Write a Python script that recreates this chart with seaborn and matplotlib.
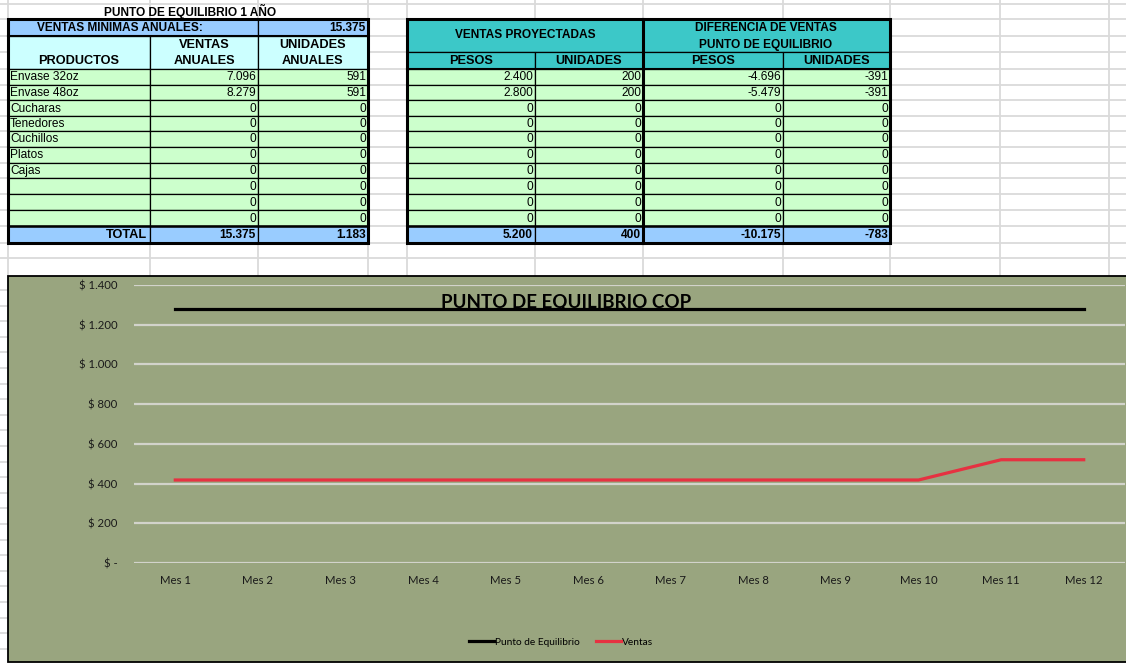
"""Hoja de punto de equilibrio: tablas de ventas + grafico mensual.
Guarda `out.png`.
"""
import matplotlib
matplotlib.use("Agg")
import matplotlib.pyplot as plt
from matplotlib.patches import Rectangle
from matplotlib.ticker import FuncFormatter
import numpy as np
import pandas as pd
import seaborn as sns

# --- datos de las tablas ---
productos = ["Envase 32oz", "Envase 48oz", "Cucharas", "Tenedores", "Cuchillos",
             "Platos", "Cajas", "", "", ""]
ventas_anuales = [7096, 8279, 0, 0, 0, 0, 0, 0, 0, 0]
unidades_anuales = [591, 591, 0, 0, 0, 0, 0, 0, 0, 0]
proy_pesos = [2400, 2800, 0, 0, 0, 0, 0, 0, 0, 0]
proy_unidades = [200, 200, 0, 0, 0, 0, 0, 0, 0, 0]
dif_pesos = [-4696, -5479, 0, 0, 0, 0, 0, 0, 0, 0]
dif_unidades = [-391, -391, 0, 0, 0, 0, 0, 0, 0, 0]
ventas_minimas = 15375
totales_izq = [15375, 1183]
totales_der = [5200, 400, -10175, -783]

# --- datos del grafico ---
meses = ["Mes 1", "Mes 2", "Mes 3", "Mes 4", "Mes 5", "Mes 6",
         "Mes 7", "Mes 8", "Mes 9", "Mes 10", "Mes 11", "Mes 12"]
punto_equilibrio = [1281, 1281, 1281, 1281, 1281, 1281,
                    1281, 1281, 1281, 1281, 1281, 1281]
ventas_mes = [418, 418, 418, 418, 418, 418, 418, 418, 418, 418, 520, 520]

W, H = 1126, 664
AZUL = "#99ccff"
CIAN = "#ccffff"
VERDE = "#ccffcc"
TEAL = "#3cc8c8"
FONDO = "#99a57f"
TFONT = "Liberation Sans"


def fmt(v):
    s = f"{abs(int(v)):,}".replace(",", ".")
    return ("-" if v < 0 else "") + s


fig = plt.figure(figsize=(W / 100, H / 100), dpi=100)
bg = fig.add_axes([0, 0, 1, 1])
bg.set_xlim(0, W)
bg.set_ylim(H, 0)
bg.axis("off")

# cuadricula de la hoja
filas = [4, 19, 36, 52, 69, 85, 100, 116, 131, 147, 163, 178, 194, 210, 226, 243, 258]
cols = [8, 150, 258, 368, 407, 535, 643, 783, 890, 1000, 1109]
for y in filas:
    bg.plot([0, W], [y, y], color="#dadada", lw=1.3, zorder=0)
for x in cols:
    bg.plot([x, x], [0, 276], color="#dadada", lw=1.3, zorder=0)
for y in np.arange(290, 664, 15.6):
    bg.plot([0, 8], [y, y], color="#dadada", lw=1.3, zorder=0)


def cell(x0, x1, y0, y1, color, lw=0.9):
    bg.add_patch(Rectangle((x0, y0), x1 - x0, y1 - y0, facecolor=color,
                           edgecolor="black", lw=lw, zorder=2))


def txt(x, y, s, ha="right", bold=False, size=8.6):
    bg.text(x, y, s, ha=ha, va="center", fontsize=size, family=TFONT,
            fontweight="bold" if bold else "normal", zorder=4)


filas_datos = filas[4:15]

# tabla izquierda
txt(190, 11.5, "PUNTO DE EQUILIBRIO 1 AÑO", ha="center", bold=True)
cell(8, 258, 19, 36, AZUL)
cell(258, 368, 19, 36, AZUL)
txt(120, 28, "VENTAS MINIMAS ANUALES:", ha="center", bold=True)
txt(366, 28, fmt(ventas_minimas), bold=True)
for x0, x1 in [(8, 150), (150, 258), (258, 368)]:
    cell(x0, x1, 36, 69, CIAN)
txt(79, 61, "PRODUCTOS", ha="center", bold=True, size=9.2)
for xc, linea1, linea2 in [(204, "VENTAS", "ANUALES"), (313, "UNIDADES", "ANUALES")]:
    txt(xc, 45, linea1, ha="center", bold=True, size=9.2)
    txt(xc, 61, linea2, ha="center", bold=True, size=9.2)
for i, (prod, va, ua) in enumerate(zip(productos, ventas_anuales, unidades_anuales)):
    y0, y1 = filas_datos[i], filas_datos[i + 1]
    for x0, x1 in [(8, 150), (150, 258), (258, 368)]:
        cell(x0, x1, y0, y1, VERDE)
    yc = (y0 + y1) / 2 + 0.5
    txt(10, yc, prod, ha="left")
    txt(256, yc, fmt(va))
    txt(366, yc, fmt(ua))
for x0, x1 in [(8, 150), (150, 258), (258, 368)]:
    cell(x0, x1, 226, 243, AZUL)
txt(147, 235, "TOTAL", bold=True, size=9.2)
txt(256, 235, fmt(totales_izq[0]), bold=True)
txt(366, 235, fmt(totales_izq[1]), bold=True)
bg.add_patch(Rectangle((8, 19), 360, 224, fill=False, edgecolor="black", lw=2.2, zorder=5))
bg.plot([8, 368], [226, 226], color="black", lw=1.8, zorder=5)
bg.plot([8, 368], [36, 36], color="black", lw=1.5, zorder=5)

# tabla derecha
cell(407, 643, 19, 52, TEAL)
cell(643, 890, 19, 52, TEAL)
txt(525, 35.5, "VENTAS PROYECTADAS", ha="center", bold=True)
txt(766, 28, "DIFERENCIA DE VENTAS", ha="center", bold=True)
txt(766, 45, "PUNTO DE EQUILIBRIO", ha="center", bold=True)
sub_cols = [(407, 535), (535, 643), (643, 783), (783, 890)]
for (x0, x1), nombre in zip(sub_cols, ["PESOS", "UNIDADES", "PESOS", "UNIDADES"]):
    cell(x0, x1, 52, 69, TEAL)
    txt((x0 + x1) / 2, 61, nombre, ha="center", bold=True, size=9.2)
for i, fila in enumerate(zip(proy_pesos, proy_unidades, dif_pesos, dif_unidades)):
    y0, y1 = filas_datos[i], filas_datos[i + 1]
    yc = (y0 + y1) / 2 + 0.5
    for (x0, x1), v in zip(sub_cols, fila):
        cell(x0, x1, y0, y1, VERDE)
        txt(x1 - 2, yc, fmt(v))
for (x0, x1), v in zip(sub_cols, totales_der):
    cell(x0, x1, 226, 243, AZUL)
    txt(x1 - 2, 235, fmt(v), bold=True)
bg.add_patch(Rectangle((407, 19), 483, 224, fill=False, edgecolor="black", lw=2.2, zorder=5))
bg.plot([643, 643], [19, 243], color="black", lw=2.2, zorder=5)
bg.plot([407, 890], [226, 226], color="black", lw=1.8, zorder=5)
bg.plot([407, 890], [69, 69], color="black", lw=1.5, zorder=5)

# area del grafico
bg.add_patch(Rectangle((8, 276), W, 386, facecolor=FONDO, edgecolor="black", lw=1.3, zorder=1))
bg.text(566, 307, "PUNTO DE EQUILIBRIO COP", ha="center", va="baseline",
        fontsize=13.5, fontweight="bold", family="Lato", zorder=3)

df = pd.DataFrame({
    "mes": meses * 2,
    "valor": punto_equilibrio + ventas_mes,
    "serie": ["Punto de Equilibrio"] * len(meses) + ["Ventas"] * len(meses),
})

ax = fig.add_axes([134 / W, 1 - 563 / H, (1125 - 134) / W, (563 - 285) / H])
ax.set_facecolor("none")
sns.lineplot(data=df, x="mes", y="valor", hue="serie", sort=False,
             palette={"Punto de Equilibrio": "black", "Ventas": "#e63241"},
             linewidth=2.3, ax=ax)
ax.set_xlim(-0.5, len(meses) - 0.5)
ax.set_ylim(0, 1400)
ax.set_yticks(range(0, 1401, 200))
ax.yaxis.set_major_formatter(FuncFormatter(lambda v, p: "$ -" if v == 0 else "$ " + fmt(v)))
ax.yaxis.grid(True, color="#d2d3cb", lw=1.6)
ax.xaxis.grid(False)
ax.set_axisbelow(True)
for s in ax.spines.values():
    s.set_visible(False)
ax.tick_params(length=0, labelsize=8.2)
ax.tick_params(axis="y", pad=12)
ax.tick_params(axis="x", pad=9)
for lab in ax.get_xticklabels() + ax.get_yticklabels():
    lab.set_family("Lato")
    lab.set_color("#1a1a1a")
ax.set_xlabel("")
ax.set_ylabel("")
handles, labels = ax.get_legend_handles_labels()
ax.legend(handles, labels, loc="center", bbox_to_anchor=(561 / W, 1 - 642 / H),
          bbox_transform=fig.transFigure, ncol=2, frameon=False,
          prop={"family": "Lato", "size": 7.3}, handlelength=2.5,
          handletextpad=0.1, columnspacing=1.6)

fig.savefig("out.png", dpi=100)
